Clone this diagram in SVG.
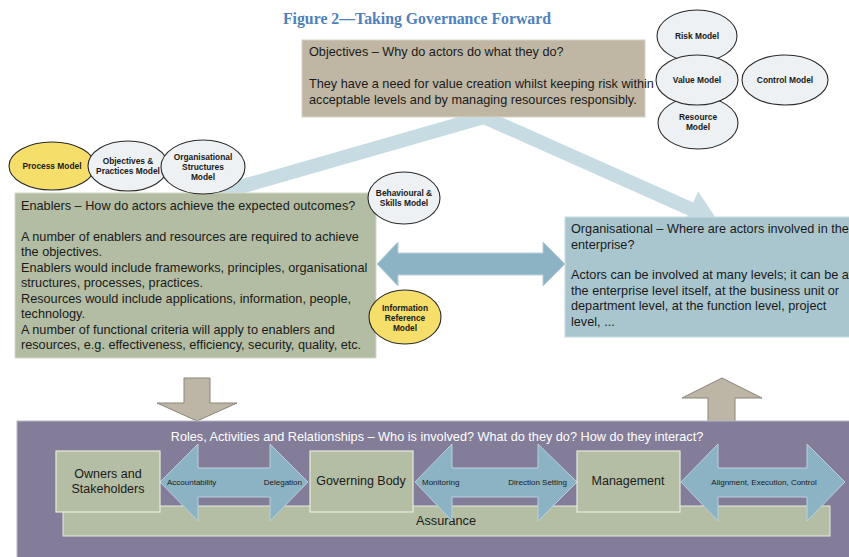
<svg xmlns="http://www.w3.org/2000/svg" width="849" height="557" viewBox="0 0 849 557">
  <style>
    .t { font-family: "Liberation Sans", Arial, sans-serif; fill: #1a1a1a; }
    .body { font-size: 12.7px; }
    .lbl { font-size: 12.5px; }
    .small { font-size: 8px; }
    .ell { fill: #edf1f4; stroke: #2a2a2a; stroke-width: 1.1; }
    .ell.y { fill: #f5df6a; }
    .etext { font-family: "Liberation Sans", Arial, sans-serif; font-size: 8.4px; font-weight: bold; fill: #1a1a1a; text-anchor: middle; }
    .dbl { fill: #8cb3c3; stroke: #b9d0da; stroke-width: 1; }
    .tan { fill: #bdb6a6; stroke: #8a8578; stroke-width: 1; }
    .flow { fill: #c6dbe2; }
    .inner { fill: #b4bea4; stroke: #e6ebdd; stroke-width: 1.2; }
  </style>

  <!-- heading -->
  <text x="417" y="24" text-anchor="middle" font-family="'Liberation Serif', 'Times New Roman', serif" font-size="15.8px" font-weight="bold" fill="#4f81bd">Figure 2—Taking Governance Forward</text>

  <!-- connectors -->
  <g id="connectors">
    <!-- broad light flows from objectives down to enablers and organisational -->
    <g transform="translate(484,117) rotate(164)">
      <polygon class="flow" points="0,-7 262,-7 262,-18 290,0 262,18 262,7 0,7"/>
    </g>
    <g transform="translate(484,117) rotate(24)">
      <polygon class="flow" points="0,-7 226,-7 226,-19 256,0 226,19 226,7 0,7"/>
    </g>
    <!-- enablers <-> organisational -->
    <polygon class="dbl" points="377,264 398,242 398,253 543,253 543,242 565,264 543,286 543,275 398,275 398,286"/>
    <!-- down into roles -->
    <polygon class="tan" points="184,378 210,378 210,403 237,403 197,421 157,403 184,403"/>
    <!-- up out of roles -->
    <polygon class="tan" points="708,422 735,422 735,398 762,398 722,378 682,398 708,398"/>
  </g>

  <!-- objectives -->
  <g id="objectives">
    <rect x="302" y="40" width="343" height="77" fill="#bfb6a3" stroke="#d8d2c4" stroke-width="1"/>
    <text class="t body" x="309" y="56">Objectives – Why do actors do what they do?</text>
    <text class="t body" x="309" y="88">They have a need for value creation whilst keeping risk within</text>
    <text class="t body" x="309" y="104">acceptable levels and by managing resources responsibly.</text>
  </g>

  <g id="risk-model">
    <ellipse class="ell" cx="697" cy="36" rx="40" ry="26"/>
    <text class="etext" x="697" y="39">Risk Model</text>
  </g>
  <g id="resource-model">
    <ellipse class="ell" cx="698" cy="123" rx="40" ry="26"/>
    <text class="etext" x="698" y="120">Resource</text>
    <text class="etext" x="698" y="130">Model</text>
  </g>
  <g id="value-model">
    <ellipse class="ell" cx="697" cy="80" rx="41" ry="25"/>
    <text class="etext" x="697" y="83">Value Model</text>
  </g>
  <g id="control-model">
    <ellipse class="ell" cx="785" cy="80" rx="43" ry="25"/>
    <text class="etext" x="785" y="83">Control Model</text>
  </g>

  <!-- enablers -->
  <g id="enablers">
    <rect x="15" y="193" width="361" height="165" fill="#b3bda3" stroke="#d3d9c8" stroke-width="1"/>
    <text class="t body" x="21" y="210">Enablers – How do actors achieve the expected outcomes?</text>
    <text class="t body" x="21" y="241">A number of enablers and resources are required to achieve</text>
    <text class="t body" x="21" y="256">the objectives.</text>
    <text class="t body" x="21" y="272">Enablers would include frameworks, principles, organisational</text>
    <text class="t body" x="21" y="287">structures, processes, practices.</text>
    <text class="t body" x="21" y="303">Resources would include applications, information, people,</text>
    <text class="t body" x="21" y="318">technology.</text>
    <text class="t body" x="21" y="334">A number of functional criteria will apply to enablers and</text>
    <text class="t body" x="21" y="349">resources, e.g. effectiveness, efficiency, security, quality, etc.</text>
  </g>

  <g id="process-model">
    <ellipse class="ell y" cx="52" cy="166" rx="43" ry="24"/>
    <text class="etext" x="52" y="169">Process Model</text>
  </g>
  <g id="objectives-practices-model">
    <ellipse class="ell" cx="128" cy="166" rx="40" ry="25"/>
    <text class="etext" x="128" y="164">Objectives &amp;</text>
    <text class="etext" x="128" y="174">Practices Model</text>
  </g>
  <g id="org-structures-model">
    <ellipse class="ell" cx="203" cy="167" rx="42" ry="27"/>
    <text class="etext" x="203" y="160">Organisational</text>
    <text class="etext" x="203" y="170">Structures</text>
    <text class="etext" x="203" y="180">Model</text>
  </g>
  <g id="behavioural-skills-model">
    <ellipse class="ell" cx="404" cy="198" rx="36" ry="26"/>
    <text class="etext" x="404" y="196">Behavioural &amp;</text>
    <text class="etext" x="404" y="206">Skills Model</text>
  </g>
  <g id="information-reference-model">
    <ellipse class="ell y" cx="405" cy="317" rx="36" ry="27"/>
    <text class="etext" x="405" y="311">Information</text>
    <text class="etext" x="405" y="321">Reference</text>
    <text class="etext" x="405" y="331">Model</text>
  </g>

  <!-- organisational -->
  <g id="organisational">
    <rect x="565" y="217" width="290" height="120" fill="#a9c6cf" stroke="#c6dbe2" stroke-width="1"/>
    <text class="t body" x="571" y="233">Organisational – Where are actors involved in the</text>
    <text class="t body" x="571" y="249">enterprise?</text>
    <text class="t body" x="571" y="279">Actors can be involved at many levels; it can be at</text>
    <text class="t body" x="571" y="295">the enterprise level itself, at the business unit or</text>
    <text class="t body" x="571" y="310">department level, at the function level, project</text>
    <text class="t body" x="571" y="326">level, ...</text>
  </g>

  <!-- roles, activities and relationships -->
  <g id="roles">
    <rect x="17" y="421" width="840" height="140" fill="#837d9a" stroke="#b8b6c2" stroke-width="1"/>
    <text class="t body" x="437" y="441" text-anchor="middle" style="fill:#ffffff">Roles, Activities and Relationships – Who is involved? What do they do? How do they interact?</text>
  </g>
  <g id="assurance">
    <rect x="63" y="506" width="767" height="30" fill="#b4bea4" stroke="#e6ebdd" stroke-width="1"/>
    <text class="t body" x="446" y="525" text-anchor="middle">Assurance</text>
  </g>

  <g id="role-arrows">
    <polygon class="dbl" points="160,482 198,444 198,468 270,468 270,444 308,482 270,521 270,497 198,497 198,521"/>
    <polygon class="dbl" points="415,482 452,444 452,468 538,468 538,444 577,482 538,521 538,497 452,497 452,521"/>
    <polygon class="dbl" points="681,482 718,444 718,468 807,468 807,444 845,482 807,521 807,497 718,497 718,521"/>
    <text class="t small" x="167" y="485">Accountability</text>
    <text class="t small" x="302" y="485" text-anchor="end">Delegation</text>
    <text class="t small" x="422" y="485">Monitoring</text>
    <text class="t small" x="567" y="485" text-anchor="end">Direction Setting</text>
    <text class="t small" x="764" y="485" text-anchor="middle">Alignment, Execution, Control</text>
  </g>

  <g id="owners-stakeholders">
    <rect class="inner" x="56" y="451" width="104" height="61"/>
    <text class="t lbl" x="108" y="478" text-anchor="middle">Owners and</text>
    <text class="t lbl" x="108" y="493" text-anchor="middle">Stakeholders</text>
  </g>
  <g id="governing-body">
    <rect class="inner" x="310" y="451" width="103" height="61"/>
    <text class="t lbl" x="361" y="485" text-anchor="middle">Governing Body</text>
  </g>
  <g id="management">
    <rect class="inner" x="577" y="451" width="103" height="61"/>
    <text class="t lbl" x="628" y="485" text-anchor="middle">Management</text>
  </g>
</svg>
